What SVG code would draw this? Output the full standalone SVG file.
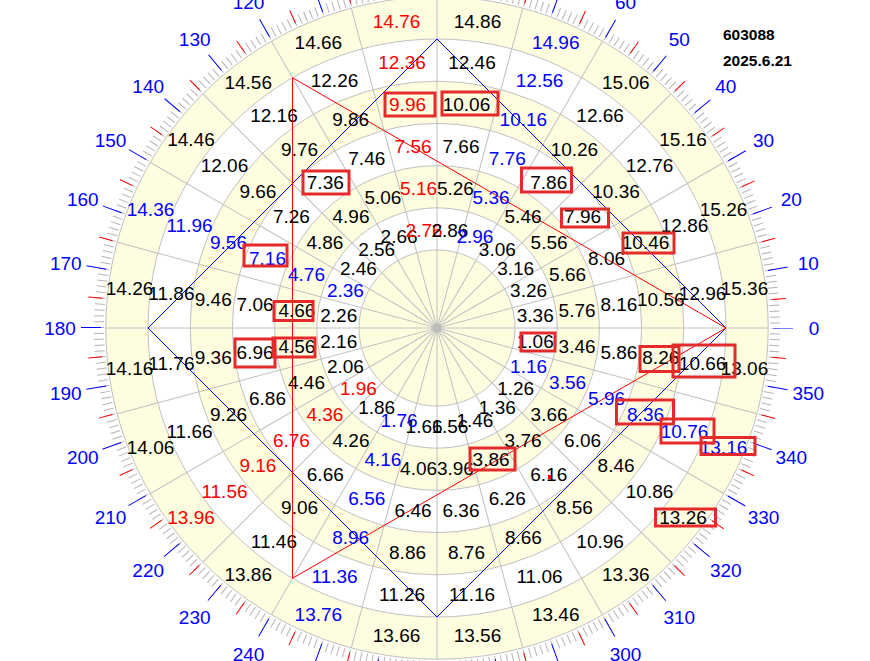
<svg xmlns="http://www.w3.org/2000/svg" width="870" height="661" viewBox="0 0 870 661">
<style>
text{font-family:"Liberation Sans",Arial,sans-serif;font-size:19px;text-anchor:middle}
.k{fill:#000}.b{fill:#0000FF}.r{fill:#FF0000}
.ring{stroke:#C0C0C0;stroke-width:1}
.y{fill:#FFFDE0}.w{fill:#FFFFFF}
.grid line{stroke:#C0C0C0;stroke-width:1}
.box{fill:none;stroke:#E42A2A;stroke-width:3}
.hd{font-size:15.5px;font-weight:bold;text-anchor:start}
</style>
<rect width="870" height="661" fill="#FFFFFF"/>
<g id="wheel" transform="translate(437 328)">
  <circle class="ring y" r="331.2"/>
  <circle class="ring w" r="289"/>
  <circle class="ring y" r="246.8"/>
  <circle class="ring w" r="204.6"/>
  <circle class="ring y" r="162.4"/>
  <circle class="ring w" r="120.2"/>
  <circle class="ring y" r="78"/>
  <g class="grid">
    <line x1="-331" y1="0" x2="331" y2="0"/>
    <line x1="-331" y1="0" x2="331" y2="0" transform="rotate(15)"/>
    <line x1="-331" y1="0" x2="331" y2="0" transform="rotate(30)"/>
    <line x1="-331" y1="0" x2="331" y2="0" transform="rotate(45)"/>
    <line x1="-331" y1="0" x2="331" y2="0" transform="rotate(60)"/>
    <line x1="-331" y1="0" x2="331" y2="0" transform="rotate(75)"/>
    <line x1="-331" y1="0" x2="331" y2="0" transform="rotate(90)"/>
    <line x1="-331" y1="0" x2="331" y2="0" transform="rotate(105)"/>
    <line x1="-331" y1="0" x2="331" y2="0" transform="rotate(120)"/>
    <line x1="-331" y1="0" x2="331" y2="0" transform="rotate(135)"/>
    <line x1="-331" y1="0" x2="331" y2="0" transform="rotate(150)"/>
    <line x1="-331" y1="0" x2="331" y2="0" transform="rotate(165)"/>
  </g>
  <circle r="4.5" fill="#BDBDBD"/>
  <!-- ticks -->
  <circle r="338" fill="none" stroke="#B4B4B4" stroke-width="10" stroke-dasharray="1 4.8992" stroke-dashoffset="0.5"/>
  <circle r="343" fill="none" stroke="#FF0000" stroke-width="14" stroke-dasharray="1 58.8651" stroke-dashoffset="-29.4326"/>
  <circle r="346" fill="none" stroke="#0000FF" stroke-width="20" stroke-dasharray="1 59.3883" stroke-dashoffset="0.5"/>
  <!-- degree labels -->
  <g id="degrees" class="b">
    <text class="b" y="7" transform="rotate(0) translate(377) rotate(0)">0</text>
    <text class="b" y="7" transform="rotate(-10) translate(377) rotate(10)">10</text>
    <text class="b" y="7" transform="rotate(-20) translate(377) rotate(20)">20</text>
    <text class="b" y="7" transform="rotate(-30) translate(377) rotate(30)">30</text>
    <text class="b" y="7" transform="rotate(-40) translate(377) rotate(40)">40</text>
    <text class="b" y="7" transform="rotate(-50) translate(377) rotate(50)">50</text>
    <text class="b" y="7" transform="rotate(-60) translate(377) rotate(60)">60</text>
    <text class="b" y="7" transform="rotate(-70) translate(377) rotate(70)">70</text>
    <text class="b" y="7" transform="rotate(-80) translate(377) rotate(80)">80</text>
    <text class="b" y="7" transform="rotate(-90) translate(377) rotate(90)">90</text>
    <text class="b" y="7" transform="rotate(-100) translate(377) rotate(100)">100</text>
    <text class="b" y="7" transform="rotate(-110) translate(377) rotate(110)">110</text>
    <text class="b" y="7" transform="rotate(-120) translate(377) rotate(120)">120</text>
    <text class="b" y="7" transform="rotate(-130) translate(377) rotate(130)">130</text>
    <text class="b" y="7" transform="rotate(-140) translate(377) rotate(140)">140</text>
    <text class="b" y="7" transform="rotate(-150) translate(377) rotate(150)">150</text>
    <text class="b" y="7" transform="rotate(-160) translate(377) rotate(160)">160</text>
    <text class="b" y="7" transform="rotate(-170) translate(377) rotate(170)">170</text>
    <text class="b" y="7" transform="rotate(-180) translate(377) rotate(180)">180</text>
    <text class="b" y="7" transform="rotate(-190) translate(377) rotate(190)">190</text>
    <text class="b" y="7" transform="rotate(-200) translate(377) rotate(200)">200</text>
    <text class="b" y="7" transform="rotate(-210) translate(377) rotate(210)">210</text>
    <text class="b" y="7" transform="rotate(-220) translate(377) rotate(220)">220</text>
    <text class="b" y="7" transform="rotate(-230) translate(377) rotate(230)">230</text>
    <text class="b" y="7" transform="rotate(-240) translate(377) rotate(240)">240</text>
    <text class="b" y="7" transform="rotate(-250) translate(377) rotate(250)">250</text>
    <text class="b" y="7" transform="rotate(-260) translate(377) rotate(260)">260</text>
    <text class="b" y="7" transform="rotate(-270) translate(377) rotate(270)">270</text>
    <text class="b" y="7" transform="rotate(-280) translate(377) rotate(280)">280</text>
    <text class="b" y="7" transform="rotate(-290) translate(377) rotate(290)">290</text>
    <text class="b" y="7" transform="rotate(-300) translate(377) rotate(300)">300</text>
    <text class="b" y="7" transform="rotate(-310) translate(377) rotate(310)">310</text>
    <text class="b" y="7" transform="rotate(-320) translate(377) rotate(320)">320</text>
    <text class="b" y="7" transform="rotate(-330) translate(377) rotate(330)">330</text>
    <text class="b" y="7" transform="rotate(-340) translate(377) rotate(340)">340</text>
    <text class="b" y="7" transform="rotate(-350) translate(377) rotate(350)">350</text>
  </g>
</g>
<g id="connectors" fill="none" stroke-width="1">
  <polygon points="437,39 726,328 437,617 148,328" stroke="#0000FF"/>
  <polygon points="726,328 292.5,77.7 292.5,578.3" stroke="#FF0000"/>
</g>
<g id="labels" transform="translate(437 328)">
  <g id="ring1">
    <text class="k" y="7" transform="rotate(7.5) translate(99.1) rotate(-7.5)">1.06</text>
    <text class="b" y="7" transform="rotate(22.5) translate(99.1) rotate(-22.5)">1.16</text>
    <text class="k" y="7" transform="rotate(37.5) translate(99.1) rotate(-37.5)">1.26</text>
    <text class="k" y="7" transform="rotate(52.5) translate(99.1) rotate(-52.5)">1.36</text>
    <text class="k" y="7" transform="rotate(67.5) translate(99.1) rotate(-67.5)">1.46</text>
    <text class="k" y="7" transform="rotate(82.5) translate(99.1) rotate(-82.5)">1.56</text>
    <text class="k" y="7" transform="rotate(97.5) translate(99.1) rotate(-97.5)">1.66</text>
    <text class="b" y="7" transform="rotate(112.5) translate(99.1) rotate(-112.5)">1.76</text>
    <text class="k" y="7" transform="rotate(127.5) translate(99.1) rotate(-127.5)">1.86</text>
    <text class="r" y="7" transform="rotate(142.5) translate(99.1) rotate(-142.5)">1.96</text>
    <text class="k" y="7" transform="rotate(157.5) translate(99.1) rotate(-157.5)">2.06</text>
    <text class="k" y="7" transform="rotate(172.5) translate(99.1) rotate(-172.5)">2.16</text>
    <text class="k" y="7" transform="rotate(187.5) translate(99.1) rotate(-187.5)">2.26</text>
    <text class="b" y="7" transform="rotate(202.5) translate(99.1) rotate(-202.5)">2.36</text>
    <text class="k" y="7" transform="rotate(217.5) translate(99.1) rotate(-217.5)">2.46</text>
    <text class="k" y="7" transform="rotate(232.5) translate(99.1) rotate(-232.5)">2.56</text>
    <text class="k" y="7" transform="rotate(247.5) translate(99.1) rotate(-247.5)">2.66</text>
    <text class="r" y="7" transform="rotate(262.5) translate(99.1) rotate(-262.5)">2.76</text>
    <text class="k" y="7" transform="rotate(277.5) translate(99.1) rotate(-277.5)">2.86</text>
    <text class="b" y="7" transform="rotate(292.5) translate(99.1) rotate(-292.5)">2.96</text>
    <text class="k" y="7" transform="rotate(307.5) translate(99.1) rotate(-307.5)">3.06</text>
    <text class="k" y="7" transform="rotate(322.5) translate(99.1) rotate(-322.5)">3.16</text>
    <text class="k" y="7" transform="rotate(337.5) translate(99.1) rotate(-337.5)">3.26</text>
    <text class="k" y="7" transform="rotate(352.5) translate(99.1) rotate(-352.5)">3.36</text>
  </g>
  <g id="ring2">
    <text class="k" y="7" transform="rotate(7.5) translate(141.3) rotate(-7.5)">3.46</text>
    <text class="b" y="7" transform="rotate(22.5) translate(141.3) rotate(-22.5)">3.56</text>
    <text class="k" y="7" transform="rotate(37.5) translate(141.3) rotate(-37.5)">3.66</text>
    <text class="k" y="7" transform="rotate(52.5) translate(141.3) rotate(-52.5)">3.76</text>
    <text class="k" y="7" transform="rotate(67.5) translate(141.3) rotate(-67.5)">3.86</text>
    <text class="k" y="7" transform="rotate(82.5) translate(141.3) rotate(-82.5)">3.96</text>
    <text class="k" y="7" transform="rotate(97.5) translate(141.3) rotate(-97.5)">4.06</text>
    <text class="b" y="7" transform="rotate(112.5) translate(141.3) rotate(-112.5)">4.16</text>
    <text class="k" y="7" transform="rotate(127.5) translate(141.3) rotate(-127.5)">4.26</text>
    <text class="r" y="7" transform="rotate(142.5) translate(141.3) rotate(-142.5)">4.36</text>
    <text class="k" y="7" transform="rotate(157.5) translate(141.3) rotate(-157.5)">4.46</text>
    <text class="k" y="7" transform="rotate(172.5) translate(141.3) rotate(-172.5)">4.56</text>
    <text class="k" y="7" transform="rotate(187.5) translate(141.3) rotate(-187.5)">4.66</text>
    <text class="b" y="7" transform="rotate(202.5) translate(141.3) rotate(-202.5)">4.76</text>
    <text class="k" y="7" transform="rotate(217.5) translate(141.3) rotate(-217.5)">4.86</text>
    <text class="k" y="7" transform="rotate(232.5) translate(141.3) rotate(-232.5)">4.96</text>
    <text class="k" y="7" transform="rotate(247.5) translate(141.3) rotate(-247.5)">5.06</text>
    <text class="r" y="7" transform="rotate(262.5) translate(141.3) rotate(-262.5)">5.16</text>
    <text class="k" y="7" transform="rotate(277.5) translate(141.3) rotate(-277.5)">5.26</text>
    <text class="b" y="7" transform="rotate(292.5) translate(141.3) rotate(-292.5)">5.36</text>
    <text class="k" y="7" transform="rotate(307.5) translate(141.3) rotate(-307.5)">5.46</text>
    <text class="k" y="7" transform="rotate(322.5) translate(141.3) rotate(-322.5)">5.56</text>
    <text class="k" y="7" transform="rotate(337.5) translate(141.3) rotate(-337.5)">5.66</text>
    <text class="k" y="7" transform="rotate(352.5) translate(141.3) rotate(-352.5)">5.76</text>
  </g>
  <g id="ring3">
    <text class="k" y="7" transform="rotate(7.5) translate(183.5) rotate(-7.5)">5.86</text>
    <text class="b" y="7" transform="rotate(22.5) translate(183.5) rotate(-22.5)">5.96</text>
    <text class="k" y="7" transform="rotate(37.5) translate(183.5) rotate(-37.5)">6.06</text>
    <text class="k" y="7" transform="rotate(52.5) translate(183.5) rotate(-52.5)">6.16</text>
    <text class="k" y="7" transform="rotate(67.5) translate(183.5) rotate(-67.5)">6.26</text>
    <text class="k" y="7" transform="rotate(82.5) translate(183.5) rotate(-82.5)">6.36</text>
    <text class="k" y="7" transform="rotate(97.5) translate(183.5) rotate(-97.5)">6.46</text>
    <text class="b" y="7" transform="rotate(112.5) translate(183.5) rotate(-112.5)">6.56</text>
    <text class="k" y="7" transform="rotate(127.5) translate(183.5) rotate(-127.5)">6.66</text>
    <text class="r" y="7" transform="rotate(142.5) translate(183.5) rotate(-142.5)">6.76</text>
    <text class="k" y="7" transform="rotate(157.5) translate(183.5) rotate(-157.5)">6.86</text>
    <text class="k" y="7" transform="rotate(172.5) translate(183.5) rotate(-172.5)">6.96</text>
    <text class="k" y="7" transform="rotate(187.5) translate(183.5) rotate(-187.5)">7.06</text>
    <text class="b" y="7" transform="rotate(202.5) translate(183.5) rotate(-202.5)">7.16</text>
    <text class="k" y="7" transform="rotate(217.5) translate(183.5) rotate(-217.5)">7.26</text>
    <text class="k" y="7" transform="rotate(232.5) translate(183.5) rotate(-232.5)">7.36</text>
    <text class="k" y="7" transform="rotate(247.5) translate(183.5) rotate(-247.5)">7.46</text>
    <text class="r" y="7" transform="rotate(262.5) translate(183.5) rotate(-262.5)">7.56</text>
    <text class="k" y="7" transform="rotate(277.5) translate(183.5) rotate(-277.5)">7.66</text>
    <text class="b" y="7" transform="rotate(292.5) translate(183.5) rotate(-292.5)">7.76</text>
    <text class="k" y="7" transform="rotate(307.5) translate(183.5) rotate(-307.5)">7.86</text>
    <text class="k" y="7" transform="rotate(322.5) translate(183.5) rotate(-322.5)">7.96</text>
    <text class="k" y="7" transform="rotate(337.5) translate(183.5) rotate(-337.5)">8.06</text>
    <text class="k" y="7" transform="rotate(352.5) translate(183.5) rotate(-352.5)">8.16</text>
  </g>
  <g id="ring4">
    <text class="k" y="7" transform="rotate(7.5) translate(225.7) rotate(-7.5)">8.26</text>
    <text class="b" y="7" transform="rotate(22.5) translate(225.7) rotate(-22.5)">8.36</text>
    <text class="k" y="7" transform="rotate(37.5) translate(225.7) rotate(-37.5)">8.46</text>
    <text class="k" y="7" transform="rotate(52.5) translate(225.7) rotate(-52.5)">8.56</text>
    <text class="k" y="7" transform="rotate(67.5) translate(225.7) rotate(-67.5)">8.66</text>
    <text class="k" y="7" transform="rotate(82.5) translate(225.7) rotate(-82.5)">8.76</text>
    <text class="k" y="7" transform="rotate(97.5) translate(225.7) rotate(-97.5)">8.86</text>
    <text class="b" y="7" transform="rotate(112.5) translate(225.7) rotate(-112.5)">8.96</text>
    <text class="k" y="7" transform="rotate(127.5) translate(225.7) rotate(-127.5)">9.06</text>
    <text class="r" y="7" transform="rotate(142.5) translate(225.7) rotate(-142.5)">9.16</text>
    <text class="k" y="7" transform="rotate(157.5) translate(225.7) rotate(-157.5)">9.26</text>
    <text class="k" y="7" transform="rotate(172.5) translate(225.7) rotate(-172.5)">9.36</text>
    <text class="k" y="7" transform="rotate(187.5) translate(225.7) rotate(-187.5)">9.46</text>
    <text class="b" y="7" transform="rotate(202.5) translate(225.7) rotate(-202.5)">9.56</text>
    <text class="k" y="7" transform="rotate(217.5) translate(225.7) rotate(-217.5)">9.66</text>
    <text class="k" y="7" transform="rotate(232.5) translate(225.7) rotate(-232.5)">9.76</text>
    <text class="k" y="7" transform="rotate(247.5) translate(225.7) rotate(-247.5)">9.86</text>
    <text class="r" y="7" transform="rotate(262.5) translate(225.7) rotate(-262.5)">9.96</text>
    <text class="k" y="7" transform="rotate(277.5) translate(225.7) rotate(-277.5)">10.06</text>
    <text class="b" y="7" transform="rotate(292.5) translate(225.7) rotate(-292.5)">10.16</text>
    <text class="k" y="7" transform="rotate(307.5) translate(225.7) rotate(-307.5)">10.26</text>
    <text class="k" y="7" transform="rotate(322.5) translate(225.7) rotate(-322.5)">10.36</text>
    <text class="k" y="7" transform="rotate(337.5) translate(225.7) rotate(-337.5)">10.46</text>
    <text class="k" y="7" transform="rotate(352.5) translate(225.7) rotate(-352.5)">10.56</text>
  </g>
  <g id="ring5">
    <text class="k" y="7" transform="rotate(7.5) translate(267.9) rotate(-7.5)">10.66</text>
    <text class="b" y="7" transform="rotate(22.5) translate(267.9) rotate(-22.5)">10.76</text>
    <text class="k" y="7" transform="rotate(37.5) translate(267.9) rotate(-37.5)">10.86</text>
    <text class="k" y="7" transform="rotate(52.5) translate(267.9) rotate(-52.5)">10.96</text>
    <text class="k" y="7" transform="rotate(67.5) translate(267.9) rotate(-67.5)">11.06</text>
    <text class="k" y="7" transform="rotate(82.5) translate(267.9) rotate(-82.5)">11.16</text>
    <text class="k" y="7" transform="rotate(97.5) translate(267.9) rotate(-97.5)">11.26</text>
    <text class="b" y="7" transform="rotate(112.5) translate(267.9) rotate(-112.5)">11.36</text>
    <text class="k" y="7" transform="rotate(127.5) translate(267.9) rotate(-127.5)">11.46</text>
    <text class="r" y="7" transform="rotate(142.5) translate(267.9) rotate(-142.5)">11.56</text>
    <text class="k" y="7" transform="rotate(157.5) translate(267.9) rotate(-157.5)">11.66</text>
    <text class="k" y="7" transform="rotate(172.5) translate(267.9) rotate(-172.5)">11.76</text>
    <text class="k" y="7" transform="rotate(187.5) translate(267.9) rotate(-187.5)">11.86</text>
    <text class="b" y="7" transform="rotate(202.5) translate(267.9) rotate(-202.5)">11.96</text>
    <text class="k" y="7" transform="rotate(217.5) translate(267.9) rotate(-217.5)">12.06</text>
    <text class="k" y="7" transform="rotate(232.5) translate(267.9) rotate(-232.5)">12.16</text>
    <text class="k" y="7" transform="rotate(247.5) translate(267.9) rotate(-247.5)">12.26</text>
    <text class="r" y="7" transform="rotate(262.5) translate(267.9) rotate(-262.5)">12.36</text>
    <text class="k" y="7" transform="rotate(277.5) translate(267.9) rotate(-277.5)">12.46</text>
    <text class="b" y="7" transform="rotate(292.5) translate(267.9) rotate(-292.5)">12.56</text>
    <text class="k" y="7" transform="rotate(307.5) translate(267.9) rotate(-307.5)">12.66</text>
    <text class="k" y="7" transform="rotate(322.5) translate(267.9) rotate(-322.5)">12.76</text>
    <text class="k" y="7" transform="rotate(337.5) translate(267.9) rotate(-337.5)">12.86</text>
    <text class="k" y="7" transform="rotate(352.5) translate(267.9) rotate(-352.5)">12.96</text>
  </g>
  <g id="ring6">
    <text class="k" y="7" transform="rotate(7.5) translate(310.1) rotate(-7.5)">13.06</text>
    <text class="b" y="7" transform="rotate(22.5) translate(310.1) rotate(-22.5)">13.16</text>
    <text class="k" y="7" transform="rotate(37.5) translate(310.1) rotate(-37.5)">13.26</text>
    <text class="k" y="7" transform="rotate(52.5) translate(310.1) rotate(-52.5)">13.36</text>
    <text class="k" y="7" transform="rotate(67.5) translate(310.1) rotate(-67.5)">13.46</text>
    <text class="k" y="7" transform="rotate(82.5) translate(310.1) rotate(-82.5)">13.56</text>
    <text class="k" y="7" transform="rotate(97.5) translate(310.1) rotate(-97.5)">13.66</text>
    <text class="b" y="7" transform="rotate(112.5) translate(310.1) rotate(-112.5)">13.76</text>
    <text class="k" y="7" transform="rotate(127.5) translate(310.1) rotate(-127.5)">13.86</text>
    <text class="r" y="7" transform="rotate(142.5) translate(310.1) rotate(-142.5)">13.96</text>
    <text class="k" y="7" transform="rotate(157.5) translate(310.1) rotate(-157.5)">14.06</text>
    <text class="k" y="7" transform="rotate(172.5) translate(310.1) rotate(-172.5)">14.16</text>
    <text class="k" y="7" transform="rotate(187.5) translate(310.1) rotate(-187.5)">14.26</text>
    <text class="b" y="7" transform="rotate(202.5) translate(310.1) rotate(-202.5)">14.36</text>
    <text class="k" y="7" transform="rotate(217.5) translate(310.1) rotate(-217.5)">14.46</text>
    <text class="k" y="7" transform="rotate(232.5) translate(310.1) rotate(-232.5)">14.56</text>
    <text class="k" y="7" transform="rotate(247.5) translate(310.1) rotate(-247.5)">14.66</text>
    <text class="r" y="7" transform="rotate(262.5) translate(310.1) rotate(-262.5)">14.76</text>
    <text class="k" y="7" transform="rotate(277.5) translate(310.1) rotate(-277.5)">14.86</text>
    <text class="b" y="7" transform="rotate(292.5) translate(310.1) rotate(-292.5)">14.96</text>
    <text class="k" y="7" transform="rotate(307.5) translate(310.1) rotate(-307.5)">15.06</text>
    <text class="k" y="7" transform="rotate(322.5) translate(310.1) rotate(-322.5)">15.16</text>
    <text class="k" y="7" transform="rotate(337.5) translate(310.1) rotate(-337.5)">15.26</text>
    <text class="k" y="7" transform="rotate(352.5) translate(310.1) rotate(-352.5)">15.36</text>
  </g>
</g>
<g id="boxes">
  <rect class="box" x="385" y="93" width="50" height="23"/>
  <rect class="box" x="442" y="92" width="56" height="23"/>
  <rect class="box" x="303" y="171" width="46" height="23"/>
  <rect class="box" x="521.5" y="168" width="50" height="24"/>
  <rect class="box" x="561.5" y="209" width="47" height="18"/>
  <rect class="box" x="623" y="233" width="51" height="20"/>
  <rect class="box" x="244" y="245" width="43" height="21"/>
  <rect class="box" x="274" y="301.5" width="39" height="19"/>
  <rect class="box" x="273" y="338" width="42" height="19"/>
  <rect class="box" x="235" y="339" width="40" height="28"/>
  <rect class="box" x="521" y="333" width="34" height="18"/>
  <rect class="box" x="470" y="448" width="45" height="22"/>
  <rect class="box" x="640" y="346.5" width="39" height="25"/>
  <rect class="box" x="673" y="345" width="62" height="32"/>
  <rect class="box" x="616.5" y="400" width="57" height="24"/>
  <rect class="box" x="661" y="419" width="53" height="24"/>
  <rect class="box" x="701" y="437.5" width="54" height="17"/>
  <rect class="box" x="655.5" y="509" width="60" height="17"/>
</g>
<rect x="548" y="475" width="3" height="4" fill="#FF0000"/>
<g id="header">
  <text class="hd" x="723" y="40">603088</text>
  <text class="hd" x="723" y="65.5">2025.6.21</text>
</g>
</svg>
